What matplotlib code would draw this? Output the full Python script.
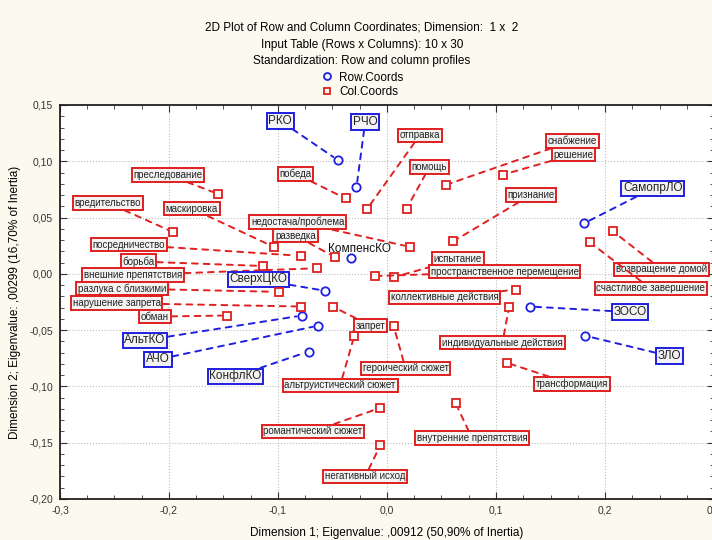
import matplotlib
matplotlib.use("Agg")
import matplotlib.pyplot as plt
from matplotlib.lines import Line2D
from matplotlib.ticker import MultipleLocator, FuncFormatter

plt.rcParams['font.family'] = ['Liberation Sans', 'DejaVu Sans']

# row coordinates (dim 1, dim 2)
row_names = ['РКО', 'РЧО', 'КомпенсКО', 'СверхЦКО', 'АльтКО', 'АЧО',
             'КонфлКО', 'СамопрЛО', 'ЗОСО', 'ЗЛО']
row_x = [-0.045, -0.028, -0.033, -0.057, -0.078, -0.063, -0.072, 0.181, 0.131, 0.182]
row_y = [0.101, 0.077, 0.014, -0.015, -0.037, -0.046, -0.069, 0.045, -0.029, -0.055]

# column coordinates
col_names = ['преследование', 'вредительство', 'маскировка', 'посредничество',
             'борьба', 'внешние препятствия', 'разлука с близкими',
             'нарушение запрета', 'обман', 'победа', 'недостача/проблема',
             'разведка', 'отправка', 'помощь', 'снабжение', 'решение',
             'признание', 'испытание', 'пространственное перемещение',
             'возвращение домой', 'счастливое завершение',
             'коллективные действия', 'индивидуальные действия', 'запрет',
             'героический сюжет', 'альтруистический сюжет',
             'романтический сюжет', 'негативный исход',
             'внутренние препятствия', 'трансформация']
col_x = [-0.155, -0.196, -0.104, -0.079, -0.114, -0.064, -0.099, -0.079, -0.147,
         -0.038, 0.021, -0.048, -0.018, 0.018, 0.054, 0.106, 0.061, 0.006,
         -0.011, 0.207, 0.186, 0.118, 0.112, -0.050, 0.006, -0.030, -0.006,
         -0.006, 0.063, 0.110]
col_y = [0.071, 0.037, 0.024, 0.016, 0.007, 0.005, -0.016, -0.029, -0.037,
         0.067, 0.024, 0.015, 0.058, 0.058, 0.079, 0.088, 0.029, -0.003,
         -0.002, 0.038, 0.028, -0.014, -0.029, -0.029, -0.046, -0.055, -0.119,
         -0.152, -0.115, -0.079]

# where the label boxes sit (layout only)
row_label_pos = [(-0.098, 0.136), (-0.020, 0.135), (-0.025, 0.022), (-0.118, -0.005),
                 (-0.222, -0.059), (-0.210, -0.076), (-0.139, -0.091),
                 (0.244, 0.076), (0.223, -0.034), (0.259, -0.073)]
col_label_pos = [(-0.201, 0.088), (-0.256, 0.063), (-0.179, 0.058), (-0.237, 0.026),
                 (-0.228, 0.011), (-0.233, -0.001), (-0.243, -0.013),
                 (-0.248, -0.026), (-0.213, -0.038), (-0.084, 0.089),
                 (-0.082, 0.046), (-0.084, 0.034), (0.030, 0.123), (0.039, 0.095),
                 (0.170, 0.118), (0.171, 0.106), (0.132, 0.070), (0.065, 0.013),
                 (0.108, 0.002), (0.252, 0.004), (0.242, -0.013), (0.053, -0.021),
                 (0.106, -0.061), (-0.015, -0.046), (0.017, -0.084),
                 (-0.043, -0.099), (-0.068, -0.140), (-0.020, -0.180),
                 (0.078, -0.146), (0.170, -0.098)]

bg = '#fcf9ef'
fig = plt.figure(figsize=(7.12, 5.4), dpi=100, facecolor=bg)
ax = fig.add_axes([60 / 712, 1 - 499 / 540, 654 / 712, 394 / 540])
ax.set_facecolor('white')

ax.set_xlim(-0.3, 0.3)
ax.set_ylim(-0.2, 0.15)
ax.xaxis.set_major_locator(MultipleLocator(0.1))
ax.xaxis.set_minor_locator(MultipleLocator(0.025))
ax.yaxis.set_major_locator(MultipleLocator(0.05))
ax.yaxis.set_minor_locator(MultipleLocator(0.01))
ax.xaxis.set_major_formatter(FuncFormatter(lambda v, p: ('%.1f' % v).replace('.', ',').replace('-0,0', '0,0')))
ax.yaxis.set_major_formatter(FuncFormatter(lambda v, p: ('%.2f' % v).replace('.', ',').replace('-0,00', '0,00')))
ax.tick_params(which='both', direction='in', top=True, right=True, labelsize=7.5, colors='#333333')
ax.tick_params(which='major', length=5, pad=5)
ax.tick_params(which='minor', length=3)
for s in ax.spines.values():
    s.set_linewidth(1.3)
    s.set_color('#222222')
ax.grid(True, which='major', linestyle=':', color='#bbbbbb', linewidth=0.8)

ax.set_xlabel('Dimension 1; Eigenvalue: ,00912 (50,90% of Inertia)', fontsize=8.5, labelpad=8)
ax.set_ylabel('Dimension 2; Eigenvalue: ,00299 (16,70% of Inertia)', fontsize=8.5, labelpad=6)

ax.plot(row_x, row_y, 'o', mfc='none', mec='#1f1fe0', ms=6, mew=1.3, zorder=5)
ax.plot(col_x, col_y, 's', mfc='none', mec='#e01f1f', ms=6, mew=1.3, zorder=5)

for name, x, y, pos in zip(col_names, col_x, col_y, col_label_pos):
    ax.annotate(name, xy=(x, y), xytext=pos, fontsize=7, ha='center', va='center',
                color='#222222',
                bbox=dict(boxstyle='square,pad=0.18', fc='#f3f3f3', ec='#e01f1f', lw=1.4),
                arrowprops=dict(arrowstyle='-', color='#e01f1f', lw=1.4, ls=(0, (3, 3)),
                                shrinkA=0, shrinkB=4))

for name, x, y, pos in zip(row_names, row_x, row_y, row_label_pos):
    if name == 'КомпенсКО':
        ax.annotate(name, xy=(x, y), xytext=pos, fontsize=8.5, ha='center', va='center',
                    color='#111111')
        continue
    ax.annotate(name, xy=(x, y), xytext=pos, fontsize=8.5, ha='center', va='center',
                color='#222222',
                bbox=dict(boxstyle='square,pad=0.15', fc='#f3f3f3', ec='#1f1fe0', lw=1.4),
                arrowprops=dict(arrowstyle='-', color='#1f1fe0', lw=1.4, ls=(0, (3, 3)),
                                shrinkA=0, shrinkB=4))

fig.text(0.508, 1 - 28 / 540, '2D Plot of Row and Column Coordinates; Dimension:  1 x  2',
         ha='center', va='center', fontsize=8.5)
fig.text(0.508, 1 - 45 / 540, 'Input Table (Rows x Columns): 10 x 30',
         ha='center', va='center', fontsize=8.5)
fig.text(0.508, 1 - 61 / 540, 'Standardization: Row and column profiles',
         ha='center', va='center', fontsize=8.5)

handles = [Line2D([], [], ls='none', marker='o', mfc='none', mec='#1f1fe0', ms=5, mew=1.3),
           Line2D([], [], ls='none', marker='s', mfc='none', mec='#e01f1f', ms=5, mew=1.3)]
fig.legend(handles, ['Row.Coords', 'Col.Coords'], loc='center', bbox_to_anchor=(0.508, 1 - 85 / 540),
           frameon=False, fontsize=8.5, handletextpad=0.4, labelspacing=0.25, handlelength=1.2)

fig.savefig('out.png', dpi=100, facecolor=bg)
